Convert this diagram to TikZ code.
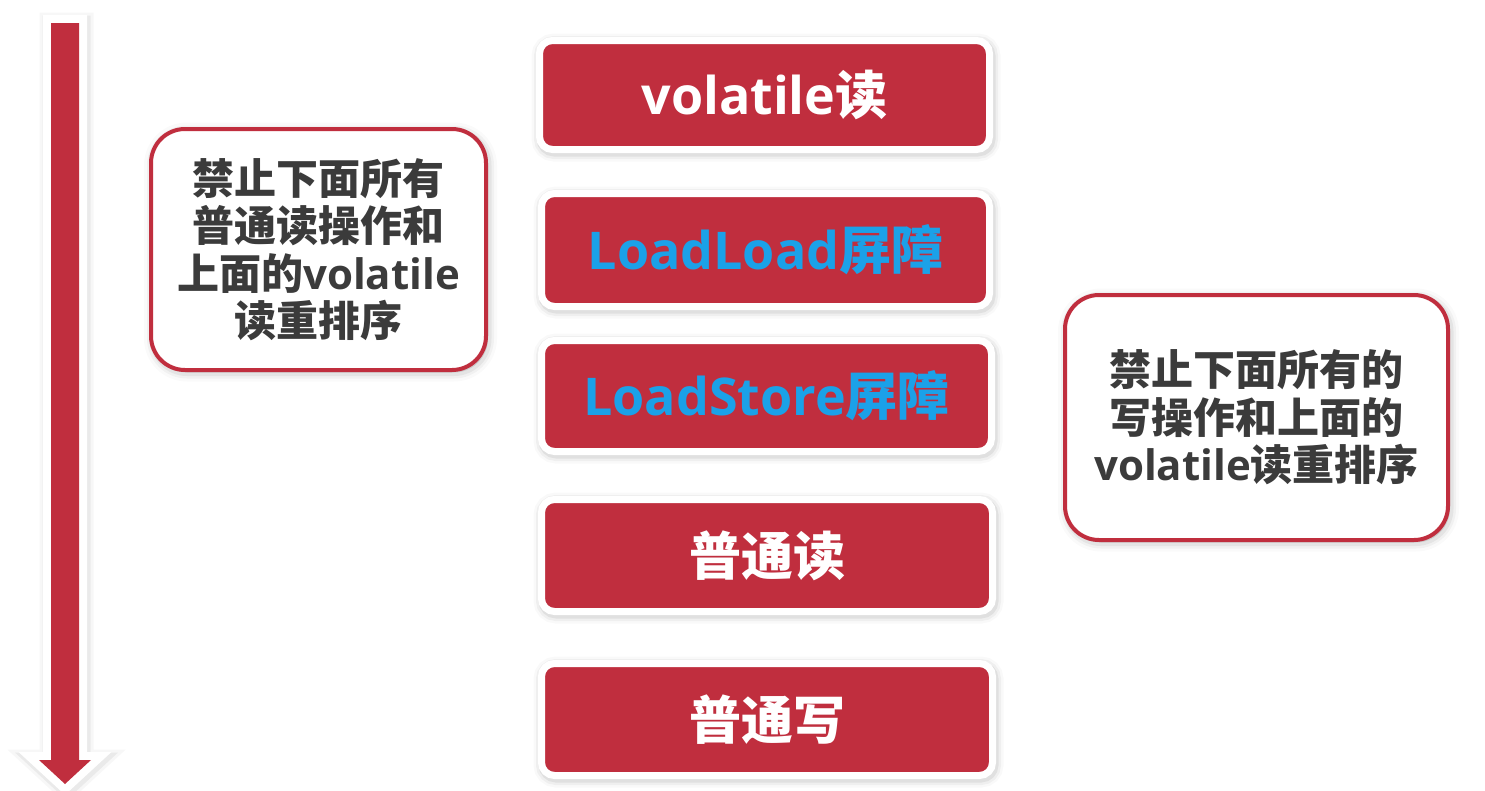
\documentclass[tikz,border=0pt]{standalone}
\usepackage{fontspec}
\newfontfamily\cjkfont{Noto Sans CJK SC}
\newfontfamily\latfont{Open Sans}
\usetikzlibrary{shadows}

\definecolor{barred}{HTML}{C02E3E}
\definecolor{barblue}{HTML}{1BA1E8}
\definecolor{notegray}{HTML}{3B3B3B}

\tikzset{
  % red instruction bars with a white rim and a soft shadow
  stepbar/.style={
    rounded corners=13pt, fill=barred, draw=white, line width=7pt,
    inner sep=0pt, text=white,
    font=\cjkfont\bfseries\fontsize{52}{60}\selectfont,
    general shadow={shadow xshift=1.5pt, shadow yshift=-2.5pt,
      fill=black, draw=black, opacity=0.025, line width=19pt},
    general shadow={shadow xshift=1.5pt, shadow yshift=-2.5pt,
      fill=black, draw=black, opacity=0.04, line width=14pt},
    general shadow={shadow xshift=1.5pt, shadow yshift=-2.5pt,
      fill=black, draw=black, opacity=0.06, line width=9pt}},
  barrier/.style={stepbar, text=barblue},
  % white explanation boxes with a red outline
  notebox/.style={
    rounded corners=34pt, fill=white, draw=barred, line width=4pt,
    inner sep=0pt, align=center, text=notegray,
    font=\cjkfont\bfseries\fontsize{42}{47.5}\selectfont,
    general shadow={shadow xshift=2pt, shadow yshift=-2.5pt,
      fill=black, draw=black, opacity=0.02, line width=18pt},
    general shadow={shadow xshift=2pt, shadow yshift=-2.5pt,
      fill=black, draw=black, opacity=0.035, line width=12pt},
    general shadow={shadow xshift=2pt, shadow yshift=-2.5pt,
      fill=black, draw=black, opacity=0.05, line width=7pt}},
  arrowshade/.style={fill=black, draw=black, line join=miter, shift={(1.5,2.5)}}
}

\newcommand{\lat}[1]{{\latfont #1}}

\begin{document}
\begin{tikzpicture}[x=1pt, y=-1pt]
  \useasboundingbox[fill=white] (0,0) rectangle (1485,790);

  % time-order arrow on the left
  \path[arrowshade, opacity=0.03, line width=26pt]
    (51,23) -- (79,23) -- (79,760) -- (91,760) -- (65,784) -- (39,760) -- (51,760) -- cycle;
  \path[arrowshade, opacity=0.05, line width=20pt]
    (51,23) -- (79,23) -- (79,760) -- (91,760) -- (65,784) -- (39,760) -- (51,760) -- cycle;
  \path[draw=white, line width=16pt, line join=miter]
    (51,23) -- (79,23) -- (79,760) -- (91,760) -- (65,784) -- (39,760) -- (51,760) -- cycle;
  \path[fill=barred]
    (51,23) -- (79,23) -- (79,760) -- (91,760) -- (65,784) -- (39,760) -- (51,760) -- cycle;

  % instruction sequence
  \node[stepbar, minimum width=450pt, minimum height=109pt] (vread)  at (764.5,95)  {\lat{volatile}读};
  \node[barrier, minimum width=448pt, minimum height=113pt] (ll)     at (765.5,250) {\lat{LoadLoad}屏障};
  \node[barrier, minimum width=450pt, minimum height=111pt] (ls)     at (766.5,396) {\lat{LoadStore}屏障};
  \node[stepbar, minimum width=451pt, minimum height=112pt] (nread)  at (767,555.5) {普通读};
  \node[stepbar, minimum width=451pt, minimum height=112pt] (nwrite) at (767,719.5) {普通写};

  % explanations of the two barriers
  \node[notebox, minimum width=335pt, minimum height=241pt] (llnote) at (318.5,249.5)
    {禁止下面所有\\普通读操作和\\上面的\lat{volatile}\\读重排序};
  \node[notebox, minimum width=383pt, minimum height=245pt] (lsnote) at (1256.5,417.5)
    {禁止下面所有的\\写操作和上面的\\\lat{volatile}读重排序};
\end{tikzpicture}
\end{document}
